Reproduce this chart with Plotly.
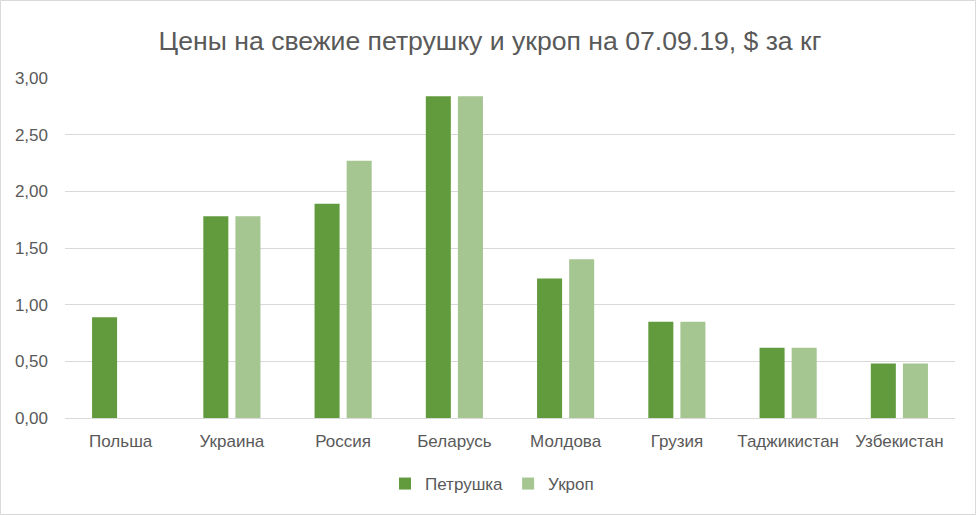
import plotly.graph_objects as go

categories = ["Польша", "Украина", "Россия", "Беларусь", "Молдова", "Грузия", "Таджикистан", "Узбекистан"]
parsley = [0.89, 1.78, 1.89, 2.84, 1.23, 0.85, 0.62, 0.48]
dill = [None, 1.78, 2.27, 2.84, 1.40, 0.85, 0.62, 0.48]
series_names = ["Петрушка", "Укроп"]
y_ticks = [0, 0.5, 1.0, 1.5, 2.0, 2.5, 3.0]
title_text = "Цены на свежие петрушку и укроп на 07.09.19, $ за кг"

W, H = 976, 515
ml, mr, mt, mb = 65, 21, 78, 97
pw, ph = W - ml - mr, H - mt - mb

font_family = "Liberation Sans, Arial, sans-serif"
text_color = "#595959"

fig = go.Figure()
fig.add_trace(go.Bar(x=categories, y=parsley, name=series_names[0], marker=dict(color="#629B3D", line=dict(width=0))))
fig.add_trace(go.Bar(x=categories, y=dill, name=series_names[1], marker=dict(color="#A5C591", line=dict(width=0))))

fig.update_layout(
    width=W, height=H,
    margin=dict(l=ml, r=mr, t=mt, b=mb),
    paper_bgcolor="white", plot_bgcolor="white",
    separators=", ",
    barmode="group", bargap=0.423, bargroupgap=0.22,
    title=dict(text=title_text, x=(490 - ml) / pw, xanchor="center", xref="paper", y=1 - 41 / H, yanchor="middle",
               font=dict(family=font_family, size=26.6, color=text_color)),
    font=dict(family=font_family, color=text_color),
    legend=dict(orientation="h", x=0.5 - 18 / pw, xanchor="center", y=(mt + ph - 484) / ph, yanchor="middle",
                font=dict(size=17, color=text_color), itemwidth=30, traceorder="normal"),
    xaxis=dict(showgrid=False, showline=False, ticks="", tickfont=dict(size=17, color=text_color),
               ticklabelstandoff=11),
    yaxis=dict(range=[0, 3], tickvals=y_ticks, tickformat=".2f", showgrid=True, gridcolor="#D9D9D9",
               gridwidth=1, zeroline=True, zerolinecolor="#D9D9D9", zerolinewidth=1, showline=False,
               tickfont=dict(size=17, color=text_color), ticklabelstandoff=16),
    shapes=[dict(type="rect", xref="paper", yref="paper",
                 x0=(0.5 - ml) / pw, x1=(W - 0.5 - ml) / pw,
                 y0=-(mb - 0.5) / ph, y1=1 + (mt - 0.5) / ph,
                 line=dict(color="#D9D9D9", width=1), fillcolor="rgba(0,0,0,0)", layer="below")],
)

fig.write_html("out.html")
